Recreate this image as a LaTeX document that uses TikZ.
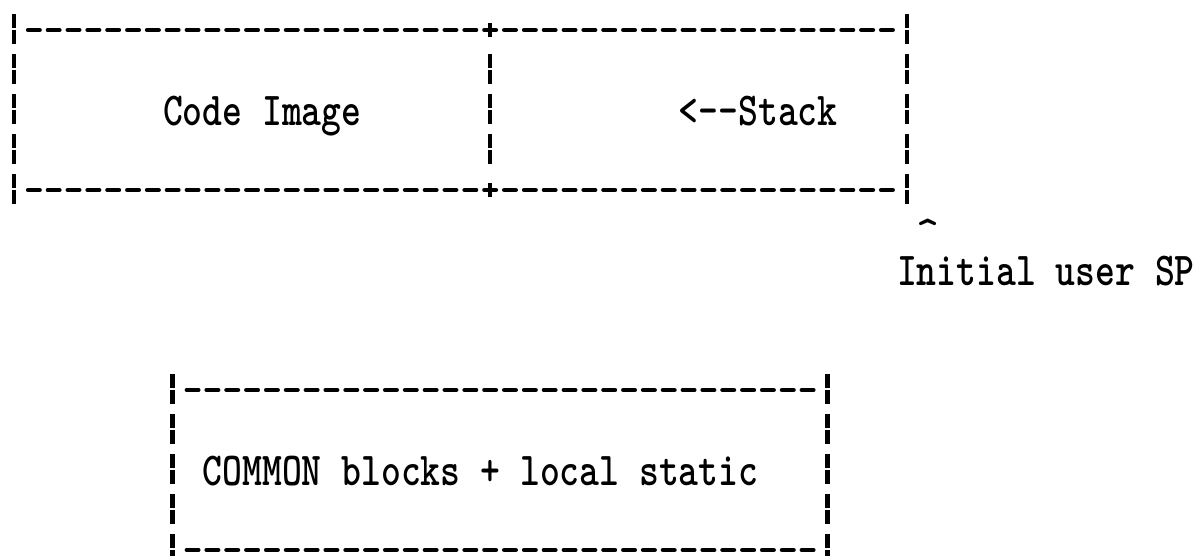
\documentclass[tikz,border=0pt]{standalone}
\usepackage{fontspec}
\usepackage{graphicx}
\newcommand\cx[1]{14+19.84*(#1)}
\newcommand\cy[1]{30+40*(#1)}
\newcommand\tw[1]{\scalebox{1}[1.25]{#1}}
\tikzset{
  hline/.style={line width=4.5pt, line cap=round, dash pattern=on 11.5pt off 8.34pt},
  vbar/.style={line width=4.5pt, dash pattern=on 14pt off 2pt on 14pt off 10pt},
  tick/.style={line width=4.5pt},
  tt/.style={inner sep=0pt, anchor=base west, font=\ttfamily\bfseries\fontsize{37.8}{40}\selectfont},
  caretstyle/.style={inner sep=0pt, anchor=base, font=\ttfamily\bfseries\fontsize{44}{44}\selectfont}
}
\begin{document}
\begin{tikzpicture}[x=1pt,y=-1pt]
\useasboundingbox[fill=white] (0,0) rectangle (1199,555);
% top box
\draw[hline] ({\cx{1}-5.75},{\cy{0}}) -- ({\cx{44}+5.75},{\cy{0}});
\draw[hline] ({\cx{1}-5.75},{\cy{4}}) -- ({\cx{44}+5.75},{\cy{4}});
\draw[vbar] ({\cx{0}},{\cy{0}-16}) -- ({\cx{0}},{\cy{4}+14});
\draw[vbar] ({\cx{45}},{\cy{0}-16}) -- ({\cx{45}},{\cy{4}+14});
\draw[vbar] ({\cx{24}},{\cy{1}-16}) -- ({\cx{24}},{\cy{3}+14});
\draw[tick] ({\cx{24}},{\cy{0}-7}) -- ({\cx{24}},{\cy{0}+7});
\draw[tick] ({\cx{24}},{\cy{4}-7}) -- ({\cx{24}},{\cy{4}+7});
\node[tt] (code) at ({\cx{8}-9.92},{\cy{2}+15}) {\tw{Code Image}};
\node[tt] (stack) at ({\cx{34}-9.92},{\cy{2}+15}) {\tw{<--Stack}};
\node[caretstyle] (caret) at ({\cx{46}+1},{\cy{5}+16}) {\textasciicircum};
\node[tt] (sp) at ({\cx{45}-9.92},{\cy{6}+15}) {\tw{Initial user SP}};
% bottom box
\draw[hline] ({\cx{9}-5.75},{\cy{9}}) -- ({\cx{40}+5.75},{\cy{9}});
\draw[hline] ({\cx{9}-5.75},{\cy{13}}) -- ({\cx{40}+5.75},{\cy{13}});
\draw[vbar] ({\cx{8}},{\cy{9}-16}) -- ({\cx{8}},{\cy{13}+14});
\draw[vbar] ({\cx{41}},{\cy{9}-16}) -- ({\cx{41}},{\cy{13}+14});
\node[tt] (common) at ({\cx{10}-9.92},{\cy{11}+15}) {\tw{COMMON blocks + local static}};
\end{tikzpicture}
\end{document}
